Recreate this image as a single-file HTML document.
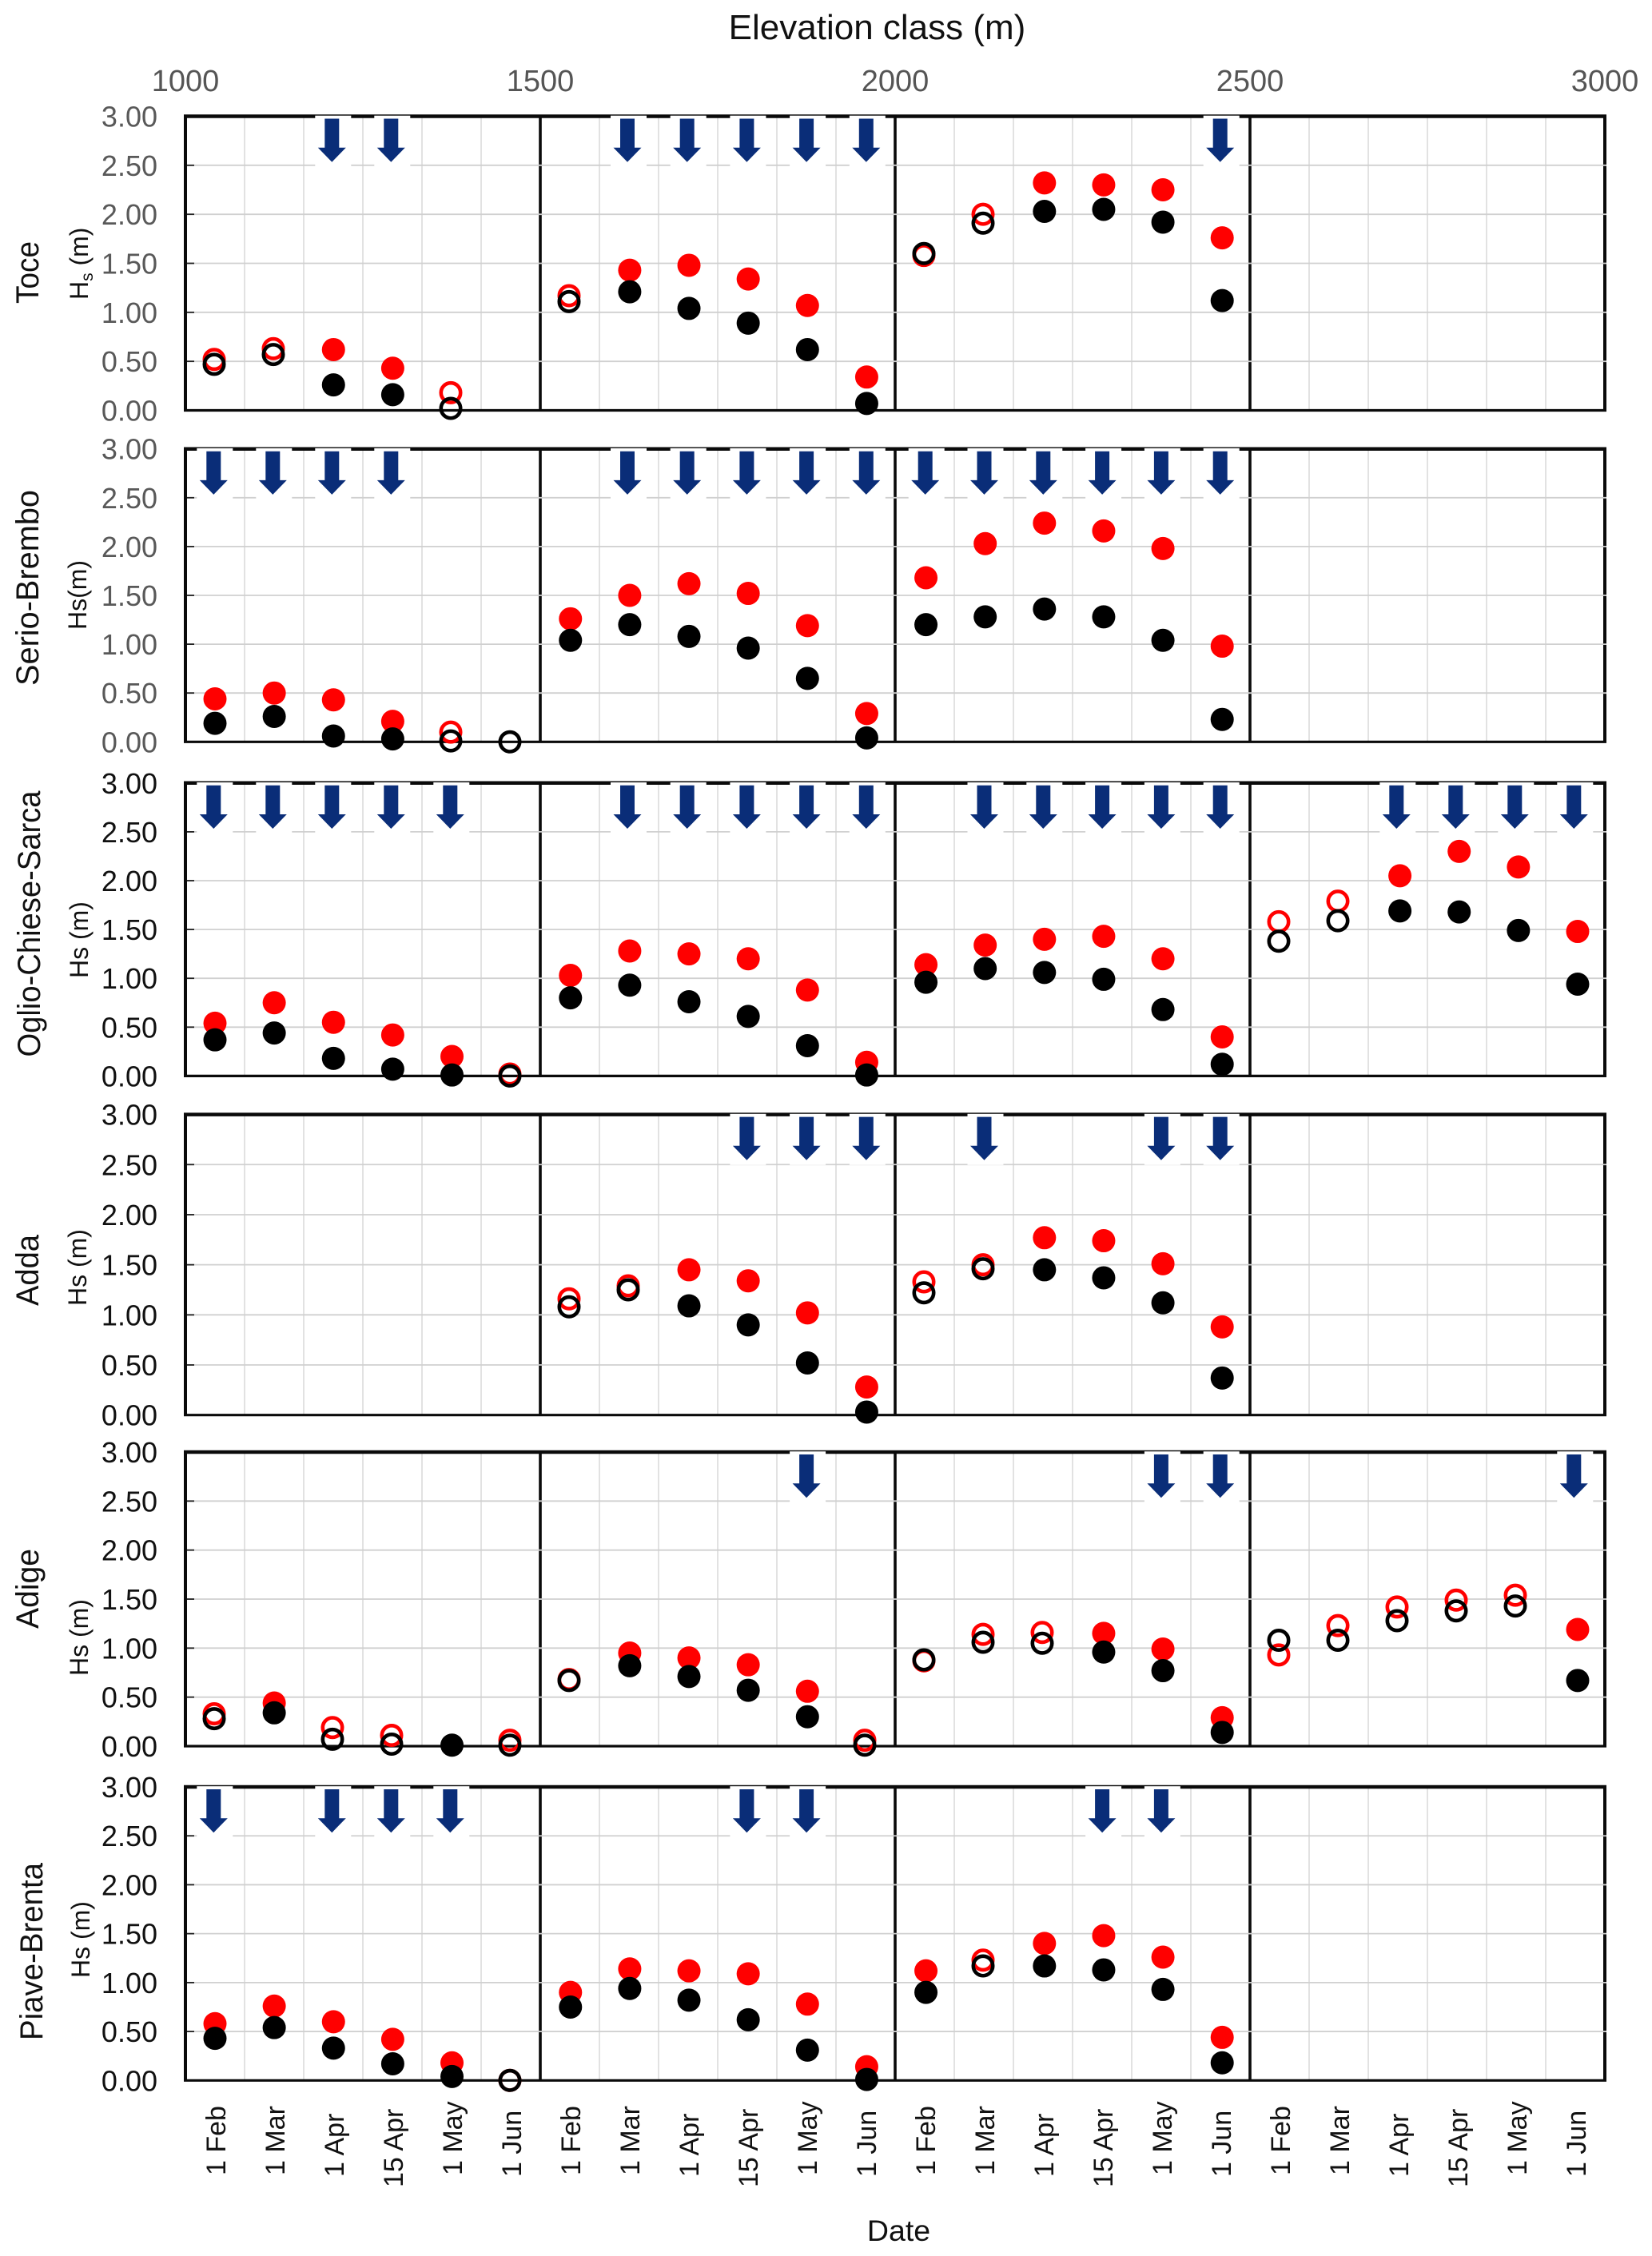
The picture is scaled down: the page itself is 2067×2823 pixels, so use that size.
<!DOCTYPE html>
<html lang="en">
<head>
<meta charset="utf-8">
<title>Snow depth by elevation class</title>
<style>
html,body{margin:0;padding:0;background:#fff;}
svg{display:block;font-family:"Liberation Sans",Arial,sans-serif;}
</style>
</head>
<body>
<svg id="chart" xmlns="http://www.w3.org/2000/svg" width="2067" height="2823" viewBox="0 0 2067 2823">
  <rect x="0" y="0" width="2067" height="2823" fill="#ffffff"/>
  <text x="1097.5" y="49" font-size="44" fill="#111" text-anchor="middle">Elevation class (m)</text>
  <text x="1124.5" y="2804" font-size="37.5" fill="#111" text-anchor="middle">Date</text>
</svg>
<script>
// ---- chart data ----
const dateCategories = ['1 Feb','1 Mar','1 Apr','15 Apr','1 May','1 Jun'];
const elevationTicks = [1000,1500,2000,2500,3000];
const yTicks = [0,0.5,1,1.5,2,2.5,3];
const basinNames = ['Toce','Serio-Brembo','Oglio-Chiese-Sarca','Adda','Adige','Piave-Brenta'];
const hsLabels = ['Hs (m)','Hs(m)','Hs (m)','Hs (m)','Hs (m)','Hs (m)'];

const toceRed = [0.52,0.63,0.62,0.43,0.18,null, 1.17,1.43,1.48,1.34,1.07,0.34, 1.58,2.00,2.32,2.30,2.25,1.76, null,null,null,null,null,null];
const toceBlack = [0.47,0.57,0.26,0.16,0.02,null, 1.11,1.21,1.04,0.89,0.62,0.07, 1.60,1.91,2.03,2.05,1.92,1.12, null,null,null,null,null,null];
const toceRedOpen = [0,1,4,6,12,13];
const toceBlackOpen = [0,1,4,6,12,13];
const toceArrows = [2,3,7,8,9,10,11,17];

const serioRed = [0.44,0.50,0.43,0.21,0.10,null, 1.26,1.50,1.62,1.52,1.19,0.29, 1.68,2.03,2.24,2.16,1.98,0.98, null,null,null,null,null,null];
const serioBlack = [0.19,0.26,0.06,0.03,0.01,0.00, 1.04,1.20,1.08,0.96,0.65,0.04, 1.20,1.28,1.36,1.28,1.04,0.23, null,null,null,null,null,null];
const serioRedOpen = [4];
const serioBlackOpen = [4,5];
const serioArrows = [0,1,2,3,7,8,9,10,11,12,13,14,15,16,17];

const oglioRed = [0.54,0.75,0.55,0.42,0.20,0.02, 1.03,1.28,1.25,1.20,0.88,0.14, 1.14,1.34,1.40,1.43,1.20,0.40, 1.58,1.79,2.05,2.30,2.14,1.48];
const oglioBlack = [0.37,0.44,0.18,0.07,0.01,0.00, 0.80,0.93,0.76,0.61,0.31,0.01, 0.96,1.10,1.06,0.99,0.68,0.12, 1.38,1.59,1.69,1.68,1.49,0.94];
const oglioRedOpen = [5,18,19];
const oglioBlackOpen = [5,18,19];
const oglioArrows = [0,1,2,3,4,7,8,9,10,11,13,14,15,16,17,20,21,22,23];

const addaRed = [null,null,null,null,null,null, 1.16,1.29,1.45,1.34,1.02,0.28, 1.33,1.50,1.77,1.74,1.51,0.88, null,null,null,null,null,null];
const addaBlack = [null,null,null,null,null,null, 1.08,1.25,1.09,0.90,0.52,0.03, 1.22,1.46,1.45,1.37,1.12,0.37, null,null,null,null,null,null];
const addaRedOpen = [6,7,12,13];
const addaBlackOpen = [6,7,12,13];
const addaArrows = [9,10,11,13,16,17];

const adigeRed = [0.33,0.44,0.19,0.11,null,0.06, 0.68,0.95,0.90,0.83,0.56,0.06, 0.87,1.14,1.16,1.15,0.99,0.29, 0.93,1.23,1.42,1.49,1.54,1.19];
const adigeBlack = [0.28,0.34,0.07,0.02,0.01,0.01, 0.67,0.82,0.71,0.57,0.30,0.01, 0.88,1.06,1.05,0.96,0.77,0.14, 1.08,1.08,1.28,1.38,1.43,0.67];
const adigeRedOpen = [0,2,3,5,6,11,12,13,14,18,19,20,21,22];
const adigeBlackOpen = [0,2,3,5,6,11,12,13,14,18,19,20,21,22];
const adigeArrows = [10,16,17,23];

const piaveRed = [0.58,0.76,0.60,0.42,0.18,0.00, 0.90,1.14,1.12,1.09,0.78,0.14, 1.12,1.23,1.40,1.48,1.26,0.44, null,null,null,null,null,null];
const piaveBlack = [0.43,0.54,0.33,0.17,0.04,0.00, 0.75,0.94,0.82,0.62,0.31,0.01, 0.90,1.17,1.17,1.13,0.93,0.18, null,null,null,null,null,null];
const piaveRedOpen = [5,13];
const piaveBlackOpen = [5,13];
const piaveArrows = [0,2,3,4,9,10,15,16];

const redSeries = [toceRed,serioRed,oglioRed,addaRed,adigeRed,piaveRed];
const blackSeries = [toceBlack,serioBlack,oglioBlack,addaBlack,adigeBlack,piaveBlack];
const redOpen = [toceRedOpen,serioRedOpen,oglioRedOpen,addaRedOpen,adigeRedOpen,piaveRedOpen];
const blackOpen = [toceBlackOpen,serioBlackOpen,oglioBlackOpen,addaBlackOpen,adigeBlackOpen,piaveBlackOpen];
const arrowColumns = [toceArrows,serioArrows,oglioArrows,addaArrows,adigeArrows,piaveArrows];

// ---- layout (not data) ----
const svg = document.getElementById('chart');
const NS = 'http://www.w3.org/2000/svg';
const plotLeft = 232, plotRight = 2008, cellW = 74;
const layout = [
  {top:145.5,bottom:513.5,nameX:48,nameLen:78,nameC:341,hsX:110,hsY:375,tick:'#595959'},
  {top:561.7,bottom:928.3,nameX:48,nameLen:245,nameC:735.5,hsX:108,hsY:788,tick:'#595959'},
  {top:979.8,bottom:1346.4,nameX:50,nameLen:333,nameC:1156,hsX:110,hsY:1224,tick:'#111'},
  {top:1394.6,bottom:1770.7,nameX:48,nameLen:89,nameC:1589.5,hsX:108,hsY:1634,tick:'#111'},
  {top:1817,bottom:2185,nameX:48,nameLen:100,nameC:1988,hsX:110,hsY:2097,tick:'#111'},
  {top:2236,bottom:2603.3,nameX:53,nameLen:222,nameC:2442,hsX:112,hsY:2475,tick:'#111'}
];

function xFilled(i){ return 269 + 74.13*i; }
function xOpen(i){ return 268 + 74.0*i; }
function xArrow(i){
  if (i >= 7 && i < 12) return 785 + 74.7*(i-7);
  if (i >= 12 && i < 18) return 1157.7 + 73.8*(i-12);
  return 267.3 + 74.0*i;
}
function xElevation(v){ return plotLeft + (v-1000)/2000*(plotRight-plotLeft); }
function yValue(p,v){ return p.bottom - v*(p.bottom-p.top)/3; }

function make(tag, attrs){
  const el = document.createElementNS(NS, tag);
  for (const k in attrs) el.setAttribute(k, attrs[k]);
  svg.appendChild(el);
  return el;
}

// top elevation axis labels
elevationTicks.forEach(function(v){
  const t = make('text',{x:xElevation(v),y:114,'font-size':38,fill:'#555','text-anchor':'middle'});
  t.textContent = String(v);
  
  
});

// date axis labels
for (let c = 0; c < 24; c++) {
  const label = dateCategories[c % 6];
  const bx = 282 + cellW*c;
  const by = 2722 + (label === '15 Apr' ? 15 : (label === '1 Apr' || label === '1 Jun' ? 2 : 0));
  const t = make('text',{x:bx,y:by,'font-size':34,fill:'#111',transform:'rotate(-90 '+bx+' '+by+')'});
  t.textContent = label;
  
  
}

function drawMarkers(p, values, openList, color, xOpenFn, xFilledFn, seriesName){
  values.forEach(function(v,i){
    if (v === null) return;
    const isOpen = openList.indexOf(i) >= 0;
    const cx = isOpen ? xOpenFn(i) : xFilledFn(i);
    const cy = yValue(p,v);
    const m = make('circle', isOpen
      ? {cx:cx,cy:cy,r:12.2,fill:'none',stroke:color,'stroke-width':4.6}
      : {cx:cx,cy:cy,r:14.5,fill:color});
    
    
  });
}

layout.forEach(function(p, pi){
  // vertical grid
  for (let k = 1; k < 24; k++) {
    if (k % 6 === 0) continue;
    const x = plotLeft + cellW*k;
    const g = make('line',{x1:x,x2:x,y1:p.top,y2:p.bottom,stroke:'#dadada','stroke-width':1.6});
    
    
  }
  // frame and band separators
  const topLine = make('line',{x1:230,x2:2010,y1:p.top,y2:p.top,stroke:'#0a0a0a','stroke-width':4.5});
  
  
  const botLine = make('line',{x1:230,x2:2010,y1:p.bottom,y2:p.bottom,stroke:'#0a0a0a','stroke-width':3.2});
  
  
  [0,6,12,18,24].forEach(function(k){
    const x = plotLeft + cellW*k;
    const w = (k === 0 || k === 24) ? 4 : 3.6;
    const s = make('line',{x1:x,x2:x,y1:p.top,y2:p.bottom,stroke:'#0a0a0a','stroke-width':w});
    
    
  });
  // horizontal grid
  yTicks.forEach(function(v){
    if (v === 0 || v === 3) return;
    const y = yValue(p,v);
    const g = make('line',{x1:234,x2:2010,y1:y,y2:y,stroke:'#d0d0d0','stroke-width':1.8});
    
    
  });
  // arrows
  arrowColumns[pi].forEach(function(c){
    const ax = xArrow(c);
    const halo = make('rect',{x:ax-21,y:p.top-0.8,width:45,height:64,fill:'#ffffff'});
    
    
  });
  arrowColumns[pi].forEach(function(c){
    const ax = xArrow(c);
    const t = p.top + 3;
    const pts = [[ax-9,t],[ax+9,t],[ax+9,t+36.2],[ax+17.5,t+36.2],[ax,t+54.2],[ax-17.5,t+36.2],[ax-9,t+36.2]]
      .map(function(q){ return q[0]+','+q[1]; }).join(' ');
    const a = make('polygon',{points:pts,fill:'#0a2d78'});
    
    
  });
  // left ticks and tick labels
  yTicks.forEach(function(v){
    const y = yValue(p,v);
    if (v !== 0 && v !== 3) {
      const tk = make('line',{x1:234,x2:243,y1:y,y2:y,stroke:'#222','stroke-width':1.8});
      
      
    }
    const t = make('text',{x:197,y:y+13,'font-size':36,fill:p.tick,'text-anchor':'end'});
    t.textContent = v.toFixed(2);
    
    
  });
  // basin label
  const nm = make('text',{x:p.nameX,y:p.nameC,'font-size':40,fill:'#111','text-anchor':'middle',
    textLength:p.nameLen,lengthAdjust:'spacingAndGlyphs',transform:'rotate(-90 '+p.nameX+' '+p.nameC+')'});
  nm.textContent = basinNames[pi];
  
  
  // y axis title
  const hs = make('text',{x:p.hsX,y:p.hsY,'font-size':32,fill:'#111',transform:'rotate(-90 '+p.hsX+' '+p.hsY+')'});
  if (pi === 0) {
    const a = document.createElementNS(NS,'tspan'); a.textContent = 'H'; hs.appendChild(a);
    const b = document.createElementNS(NS,'tspan'); b.textContent = 's'; b.setAttribute('dy','6'); b.setAttribute('font-size','21'); hs.appendChild(b);
    const d = document.createElementNS(NS,'tspan'); d.textContent = ' (m)'; d.setAttribute('dy','-6'); hs.appendChild(d);
  } else {
    hs.textContent = hsLabels[pi];
  }
  
  
  // series
  drawMarkers(p, redSeries[pi], redOpen[pi], '#ff0000', xOpen, xFilled, 'red-series');
  drawMarkers(p, blackSeries[pi], blackOpen[pi], '#000000', xOpen, xFilled, 'black-series');
});
</script>
</body>
</html>
